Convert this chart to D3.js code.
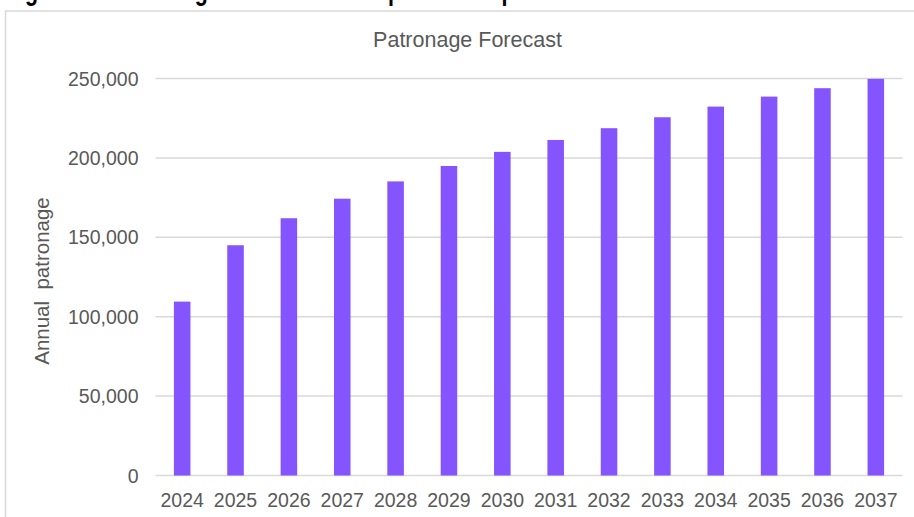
<html>
<head>
<title>Patronage Forecast</title>
<script type="text/javascript" src="https://cdn.jsdelivr.net/npm/d3@7/dist/d3.min.js"></script>
<style type="text/css">
body { margin:0px; background:white; }
text { font-family: Arial, "Liberation Sans", sans-serif; }
</style>
</head>
<body>
<script>

  // data
  var years = ["2024","2025","2026","2027","2028","2029","2030","2031","2032","2033","2034","2035","2036","2037"];
  var patronage = [109500,145000,162000,174300,185200,194900,203800,211300,218700,225600,232300,238600,243900,249800];
  var yTicks = [0,50000,100000,150000,200000,250000];

  var W = 914, H = 517,
      plotL = 155.5, plotR = 902.5, plotT = 78.5, plotB = 475.5,
      grey = "#d9d9d9", txt = "#595959";

  var svg = d3.select("body").append("svg").attr("width",W).attr("height",H);
  svg.append("rect").attr("width",W).attr("height",H).attr("fill","white");

  // caption above the chart, mostly cut off at top
  svg.append("text").text("Figure 3-1 Patronage forecast for the preferred option")
    .attr("x",6).attr("y",0).attr("font-size",30).attr("font-weight","bold").attr("fill","black")
    .attr("textLength",548).attr("lengthAdjust","spacingAndGlyphs");

  // chart area border
  svg.append("rect").attr("x",5.5).attr("y",11).attr("width",W+20).attr("height",H+20)
    .attr("fill","none").attr("stroke",grey).attr("stroke-width",1.5);

  svg.append("text").text("Patronage Forecast").attr("x",467.5).attr("y",47)
    .attr("text-anchor","middle").attr("font-size",21.5).attr("fill",txt);

  var x = d3.scaleBand().domain(years).range([plotL,plotR]).paddingInner(0.69).paddingOuter(0.345);
  var y = d3.scaleLinear().domain([0,250000]).range([plotB,plotT]);

  svg.selectAll(".grid").data(yTicks).enter().append("line").attr("class","grid")
    .attr("x1",plotL).attr("x2",plotR)
    .attr("y1",function(d){ return y(d);}).attr("y2",function(d){ return y(d);})
    .attr("stroke",grey).attr("stroke-width",1.5);

  svg.selectAll(".ylab").data(yTicks).enter().append("text").attr("class","ylab")
    .text(function(d){ return d3.format(",")(d);})
    .attr("x",138.5).attr("y",function(d){ return y(d) + 7;})
    .attr("text-anchor","end").attr("font-size",19.5).attr("fill",txt);

  svg.selectAll(".bar").data(patronage).enter().append("rect").attr("class","bar")
    .attr("x",function(d,i){ return x(years[i]);})
    .attr("width",x.bandwidth())
    .attr("y",function(d){ return y(d);})
    .attr("height",function(d){ return y(0) - y(d);})
    .attr("fill","#8454ff");

  svg.selectAll(".xlab").data(years).enter().append("text").attr("class","xlab")
    .text(function(d){ return d;})
    .attr("x",function(d){ return x(d) + x.bandwidth()/2;}).attr("y",506.5)
    .attr("text-anchor","middle").attr("font-size",19.5).attr("fill",txt);

  svg.append("text").text("Annual  patronage").style("white-space","pre")
    .attr("transform","translate(49,281) rotate(-90)")
    .attr("text-anchor","middle").attr("font-size",20.5).attr("fill",txt);

</script>
</body>
</html>
